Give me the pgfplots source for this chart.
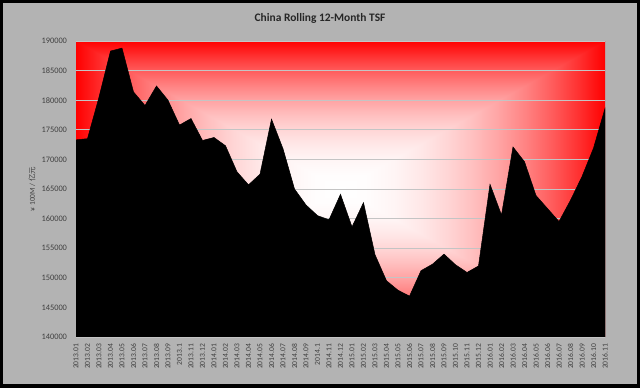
\documentclass[border=0pt]{standalone}
\usepackage{fontspec}
\setmainfont{Carlito}
\newfontfamily\cjk{Noto Sans CJK SC}
\usepackage{pgfplots}
\pgfplotsset{compat=1.18}
\definecolor{panel}{RGB}{179,179,179}
\definecolor{lbl}{RGB}{64,64,64}
\definecolor{gridc}{RGB}{196,196,196}
\definecolor{hot}{RGB}{255,0,0}
\colorlet{g0}{hot}
\colorlet{g1}{white!19!hot}
\colorlet{g2}{white!36!hot}
\colorlet{g3}{white!51!hot}
\colorlet{g4}{white!64!hot}
\colorlet{g5}{white!75!hot}
\colorlet{g6}{white!84!hot}
\colorlet{g7}{white!91!hot}
\colorlet{g8}{white!96!hot}
\colorlet{g9}{white!99!hot}
\colorlet{g10}{white}
\pgfdeclareverticalshading{vsym}{100bp}{color(0bp)=(g0); color(25bp)=(g0); color(27.5bp)=(g1); color(30bp)=(g2); color(32.5bp)=(g3); color(35bp)=(g4); color(37.5bp)=(g5); color(40bp)=(g6); color(42.5bp)=(g7); color(45bp)=(g8); color(47.5bp)=(g9); color(50bp)=(g10); color(52.5bp)=(g9); color(55bp)=(g8); color(57.5bp)=(g7); color(60bp)=(g6); color(62.5bp)=(g5); color(65bp)=(g4); color(67.5bp)=(g3); color(70bp)=(g2); color(72.5bp)=(g1); color(75bp)=(g0); color(100bp)=(g0)}
\pgfdeclarehorizontalshading{hsym}{100bp}{color(0bp)=(g0); color(25bp)=(g0); color(27.5bp)=(g1); color(30bp)=(g2); color(32.5bp)=(g3); color(35bp)=(g4); color(37.5bp)=(g5); color(40bp)=(g6); color(42.5bp)=(g7); color(45bp)=(g8); color(47.5bp)=(g9); color(50bp)=(g10); color(52.5bp)=(g9); color(55bp)=(g8); color(57.5bp)=(g7); color(60bp)=(g6); color(62.5bp)=(g5); color(65bp)=(g4); color(67.5bp)=(g3); color(70bp)=(g2); color(72.5bp)=(g1); color(75bp)=(g0); color(100bp)=(g0)}
\begin{document}
\begin{tikzpicture}
\fill[black] (0bp,0bp) rectangle (640bp,388bp);
\fill[panel] (3bp,4bp) rectangle (637bp,385bp);
\node[font=\bfseries\fontsize{11.5}{13}\selectfont, text=black!85] at (320bp,370bp) {China Rolling 12-Month TSF};
\node[rotate=90, font=\fontsize{7.5}{9}\selectfont, text=lbl] at (32bp,199bp) {¥ 100M / {\cjk 亿元}};
% background shading axis
\begin{axis}[
  at={(76bp,51bp)}, anchor=south west,
  scale only axis, width=529bp, height=296bp,
  xmin=0, xmax=46, ymin=140000, ymax=190000,
  hide axis,
]
\shade[shading=hsym] (rel axis cs:0,0) rectangle (rel axis cs:1,1);
\begin{scope}
\clip (rel axis cs:0,0) -- (rel axis cs:0.5,0.5) -- (rel axis cs:1,0) -- cycle
      (rel axis cs:0,1) -- (rel axis cs:0.5,0.5) -- (rel axis cs:1,1) -- cycle;
\shade[shading=vsym] (rel axis cs:0,0) rectangle (rel axis cs:1,1);
\end{scope}
\end{axis}
% data axis
\begin{axis}[
  at={(76bp,51bp)}, anchor=south west,
  scale only axis, width=529bp, height=296bp,
  xmin=0, xmax=46, ymin=140000, ymax=190000,
  ytick={140000,145000,150000,155000,160000,165000,170000,175000,180000,185000,190000},
  yticklabels={140000,145000,150000,155000,160000,165000,170000,175000,180000,185000,190000},
  scaled y ticks=false,
  xtick={0,...,46},
  xticklabels={2013.01,2013.02,2013.03,2013.04,2013.05,2013.06,2013.07,2013.08,2013.09,2013.1,2013.11,2013.12,
    2014.01,2014.02,2014.03,2014.04,2014.05,2014.06,2014.07,2014.08,2014.09,2014.1,2014.11,2014.12,
    2015.01,2015.02,2015.03,2015.04,2015.05,2015.06,2015.07,2015.08,2015.09,2015.10,2015.11,2015.12,
    2016.01,2016.02,2016.03,2016.04,2016.05,2016.06,2016.07,2016.08,2016.09,2016.10,2016.11},
  ymajorgrids,
  major grid style={gridc, line width=0.9bp},
  major tick length=0pt,
  tick style={draw=none},
  axis line style={draw=none},
  xticklabel style={rotate=90, anchor=east, font=\fontsize{7.6}{9}\selectfont, text=lbl},
  yticklabel style={font=\fontsize{8.4}{10}\selectfont, text=lbl},
  xticklabel shift=3.5bp,
  yticklabel shift=5.5bp,
]
\addplot[fill=black, draw=black, line width=0.5bp] coordinates {
(0,173300) (1,173500) (2,180500) (3,188300) (4,188800) (5,181400) (6,179100) (7,182400)
(8,180000) (9,175800) (10,176900) (11,173200) (12,173700) (13,172300) (14,167900) (15,165700)
(16,167500) (17,176800) (18,171800) (19,165000) (20,162300) (21,160500) (22,159800) (23,164100)
(24,158600) (25,162700) (26,153900) (27,149500) (28,147900) (29,146900) (30,151200) (31,152300)
(32,154000) (33,152200) (34,150900) (35,152000) (36,165800) (37,160600) (38,172100) (39,169600)
(40,163900) (41,161700) (42,159500) (43,163100) (44,167100) (45,171900) (46,178600)
} \closedcycle;
\end{axis}
\end{tikzpicture}
\end{document}
